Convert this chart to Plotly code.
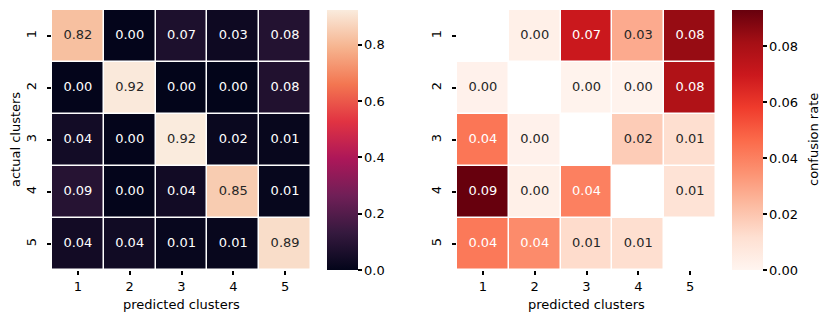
import numpy as np
import plotly.graph_objects as go

# confusion matrix, rows = actual clusters, columns = predicted clusters
clusters = [1, 2, 3, 4, 5]
row_1 = [0.820, 0.003, 0.070, 0.028, 0.084]
row_2 = [0.002, 0.920, 0.001, 0.001, 0.078]
row_3 = [0.043, 0.002, 0.924, 0.018, 0.012]
row_4 = [0.093, 0.003, 0.040, 0.850, 0.010]
row_5 = [0.042, 0.037, 0.013, 0.012, 0.890]

conf = np.array([row_1, row_2, row_3, row_4, row_5])
off_diag = conf.copy()
np.fill_diagonal(off_diag, np.nan)

rocket = [
    [0.0, "#03051a"], [0.143, "#35193e"], [0.286, "#701f57"],
    [0.429, "#ad1759"], [0.571, "#e13342"], [0.714, "#f37651"],
    [0.857, "#f6b48f"], [1.0, "#faebdd"],
]
reds = [
    [0.0, "#fff5f0"], [0.125, "#fee0d2"], [0.25, "#fcbba1"],
    [0.375, "#fc9272"], [0.5, "#fb6a4a"], [0.625, "#ef3b2c"],
    [0.75, "#cb181d"], [0.875, "#a50f15"], [1.0, "#67000d"],
]

# page body has an 8px margin, so the figure is sized to fit inside the window
OFF = 8
W, H = 830 - OFF, 322 - OFF
font = "DejaVu Sans"
fs = 13
tfont = dict(size=fs, color="black", family=font)


def px_x(x):
    return (x - OFF) / W


def px_y(y):
    return 1 - (y - OFF) / H


top, bottom = px_y(10), px_y(270)


def cbar(x, fmt, dtick):
    return dict(
        x=px_x(x), xanchor="left", xpad=0, thickness=31,
        y=bottom, yanchor="bottom", len=top - bottom, ypad=0,
        outlinewidth=0, ticks="outside", ticklen=4, tickwidth=1.5,
        tickcolor="black", tickformat=fmt, dtick=dtick, tick0=0,
        tickfont=tfont,
    )


def labels(z, light_high, xa, ya):
    # dark text on light cells, white text on dark cells
    xs, ys, txt, cols = [], [], [], []
    zmax = np.nanmax(z)
    for i, r in enumerate(clusters):
        for j, c in enumerate(clusters):
            v = z[i, j]
            if np.isnan(v):
                continue
            xs.append(c)
            ys.append(r)
            txt.append(f"{v:.2f}")
            light = v / zmax > 0.6 if light_high else v / zmax < 0.36
            cols.append("#262626" if light else "white")
    return go.Scatter(x=xs, y=ys, text=txt, mode="text", xaxis=xa, yaxis=ya,
                      textfont=dict(size=fs, color=cols, family=font),
                      hoverinfo="skip", showlegend=False)


fig = go.Figure()
fig.add_trace(go.Heatmap(z=conf, x=clusters, y=clusters, colorscale=rocket,
                         zmin=0, zmax=conf.max(), xgap=1.5, ygap=1.5,
                         colorbar=cbar(327, ".1f", 0.2), xaxis="x", yaxis="y"))
fig.add_trace(go.Heatmap(z=off_diag, x=clusters, y=clusters, colorscale=reds,
                         zmin=0, zmax=np.nanmax(off_diag), xgap=1.5, ygap=1.5,
                         colorbar=cbar(732, ".2f", 0.02),
                         xaxis="x2", yaxis="y2"))
fig.add_trace(labels(conf, True, "x", "y"))
fig.add_trace(labels(off_diag, False, "x2", "y2"))

ax = dict(showgrid=False, zeroline=False, showline=False, ticks="outside",
          ticklen=4, tickwidth=1.5, tickcolor="black", tickmode="array",
          tickvals=clusters, range=[0.5, 5.5], automargin=False, tickfont=tfont)
ay = dict(ax, range=[5.5, 0.5], tickangle=-90, ticklabelstandoff=6)

fig.update_layout(
    width=W, height=H, margin=dict(l=0, r=0, t=0, b=0),
    paper_bgcolor="white", plot_bgcolor="white",
    font=dict(family=font, size=fs, color="black"),
    xaxis=dict(ax, domain=[px_x(52), px_x(311)], anchor="y"),
    yaxis=dict(ay, domain=[bottom, top], anchor="x"),
    xaxis2=dict(ax, domain=[px_x(457), px_x(716)], anchor="y2"),
    yaxis2=dict(ay, domain=[bottom, top], anchor="x2"),
)

# axis and colorbar titles
mid = px_y(140)
titles = [
    ("predicted clusters", px_x(181.5), px_y(304), 0),
    ("predicted clusters", px_x(586.5), px_y(304), 0),
    ("actual clusters", px_x(15), mid, -90),
    ("confusion rate", px_x(813), mid, -90),
]
for text, x, y, angle in titles:
    fig.add_annotation(text=text, x=x, y=y, xref="paper", yref="paper",
                       xanchor="center", yanchor="middle", textangle=angle,
                       showarrow=False, font=tfont)

fig.write_html("out.html")
